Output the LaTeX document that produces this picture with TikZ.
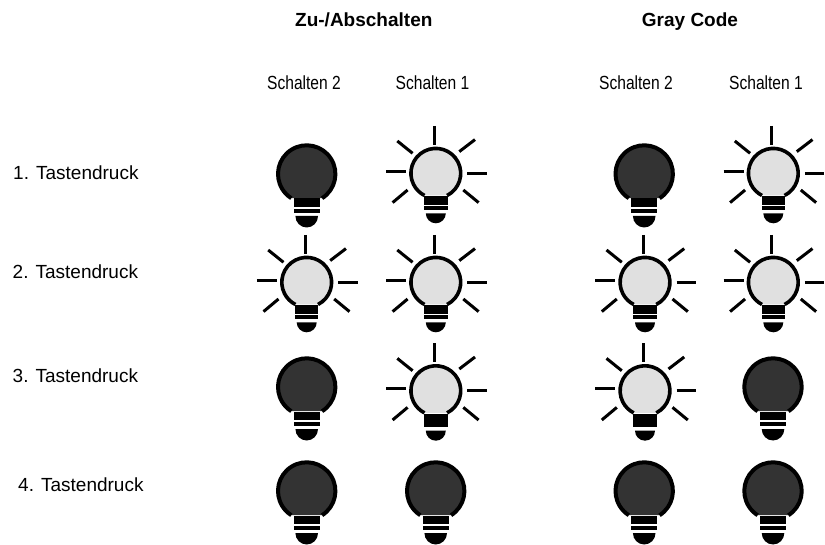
\documentclass[tikz,border=0pt]{standalone}
\usepackage{fontspec}
\setmainfont{Liberation Sans}
\definecolor{darkcol}{RGB}{51,51,51}
\definecolor{lightcol}{RGB}{224,224,224}
\newcommand{\narrow}[1]{\scalebox{.82}[1]{#1}}
\newcommand{\lightglass}{
\fill [lightcol] (63:24.9) arc [start angle=63,end angle=-243,radius=24.9] -- cycle;
\draw [line width=3.6] (63:24.9) arc [start angle=63,end angle=-243,radius=24.9];
\draw [ray] (-1.5,-47.3) -- (-1.5,-28.3);
\draw [ray] (-49.8,-2) -- (-29.8,-2);
\draw [ray] (31.5,0) -- (50.8,0);
\draw [ray] (-38.5,-32.3) -- (-23.2,-20);
\draw [ray] (23.5,-21.7) -- (39.2,-33.7);
\draw [ray] (-43.2,29.3) -- (-28.2,16.7);
\draw [ray] (27.5,16.7) -- (42.8,29.3);
\fill (-10,40) -- (10,40) arc [x radius=10,y radius=10,start angle=0,end angle=180] -- cycle;
}
\tikzset{x=1pt,y=-1pt}
\tikzset{ray/.style={line width=3}}
\tikzset{rowtext/.style={anchor=base west,inner sep=0pt,font=\fontsize{19}{22}\selectfont}}
\tikzset{headtext/.style={anchor=base,inner sep=0pt,font=\bfseries\fontsize{19}{22}\selectfont}}
\tikzset{coltext/.style={anchor=base,inner sep=0pt,font=\fontsize{19}{22}\selectfont}}
\tikzset{darkbulb/.pic={
\fill [darkcol] (57.6:28.7) arc [start angle=57.6,end angle=-237.6,radius=28.7] -- cycle;
\draw [line width=4] (57.6:28.7) arc [start angle=57.6,end angle=-237.6,radius=28.7];
\fill (-13,24.5) rectangle (13,33);
\fill (-13,35) rectangle (13,39);
\fill (-11.3,42) -- (11.3,42) arc [x radius=11.3,y radius=11.5,start angle=0,end angle=180] -- cycle;
}}
\tikzset{lightbulb/.pic={
\lightglass
\fill (-11.7,22.3) rectangle (11.7,31.7);
\fill (-11.7,32.7) rectangle (11.7,36.7);
}}
\tikzset{solidbulb/.pic={
\lightglass
\fill (-11.7,23.3) rectangle (11.7,36);
}}

\begin{document}
\begin{tikzpicture}
\useasboundingbox (0,0) rectangle (825,545);

\node [headtext] (zu) at (363.8,26.7) {Zu-/Abschalten};
\node [headtext] (gray) at (690,26.7) {Gray Code};

\node [coltext] (zu2) at (304,90) {\narrow{Schalten 2}};
\node [coltext] (zu1) at (432.5,90) {\narrow{Schalten 1}};
\node [coltext] (gray2) at (636,90) {\narrow{Schalten 2}};
\node [coltext] (gray1) at (766,90) {\narrow{Schalten 1}};

\node [rowtext] (press1) at (13,179.3) {1. Tastendruck};
\node [rowtext] (press2) at (12.5,278.3) {2. Tastendruck};
\node [rowtext] (press3) at (12.5,382.3) {3. Tastendruck};
\node [rowtext] (press4) at (18,491) {4. Tastendruck};

\pic (b11) at (306.7,174) {darkbulb};
\pic (b12) at (435.8,173.3) {lightbulb};
\pic (b13) at (644.2,174) {darkbulb};
\pic (b14) at (773.3,173.3) {lightbulb};

\pic (b21) at (306.7,282.3) {lightbulb};
\pic (b22) at (435.8,282.3) {lightbulb};
\pic (b23) at (645,282.3) {lightbulb};
\pic (b24) at (773.3,282.3) {lightbulb};

\pic (b31) at (306.7,387) {darkbulb};
\pic (b32) at (435.8,390.7) {solidbulb};
\pic (b33) at (645,390.7) {solidbulb};
\pic (b34) at (773,387) {darkbulb};

\pic (b41) at (306.7,491) {darkbulb};
\pic (b42) at (435.7,491) {darkbulb};
\pic (b43) at (644.2,491) {darkbulb};
\pic (b44) at (773,491) {darkbulb};
\end{tikzpicture}
\end{document}
